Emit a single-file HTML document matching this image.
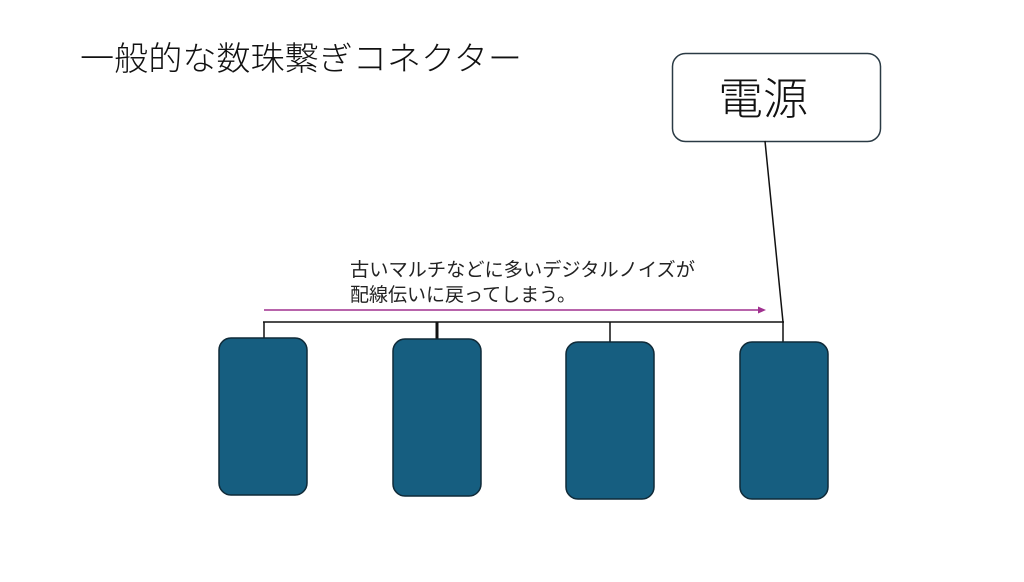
<!DOCTYPE html>
<html><head><meta charset="utf-8"><style>
html,body{margin:0;padding:0;background:#fff;}
svg text{font-family:"Liberation Sans","Noto Sans CJK JP",sans-serif;}
</style></head><body>
<svg width="1024" height="577" viewBox="0 0 1024 577" xmlns="http://www.w3.org/2000/svg">
<rect width="1024" height="577" fill="#fff"/>
<text x="80" y="70" font-size="33" font-weight="300" fill="#111" textLength="442" lengthAdjust="spacingAndGlyphs">一般的な数珠繋ぎコネクター</text>
<rect x="672.5" y="53.5" width="208" height="88" rx="13" fill="#fff" stroke="#2a3a44" stroke-width="1.5"/>
<text x="718" y="114" font-size="44" font-weight="300" fill="#111" textLength="90" lengthAdjust="spacingAndGlyphs">電源</text>
<line x1="765" y1="141" x2="783" y2="322" stroke="#111" stroke-width="1.5"/>
<text x="350" y="276" font-size="19" fill="#222" textLength="345" lengthAdjust="spacingAndGlyphs">古いマルチなどに多いデジタルノイズが</text>
<text x="350" y="301" font-size="19" fill="#222" textLength="226" lengthAdjust="spacingAndGlyphs">配線伝いに戻ってしまう。</text>
<line x1="264" y1="310" x2="760" y2="310" stroke="#a0308f" stroke-width="1.5"/>
<polygon points="766,310 758,306.5 758,313.5" fill="#a0308f"/>
<line x1="263" y1="322" x2="784" y2="322" stroke="#111" stroke-width="1.5"/>
<line x1="264" y1="322" x2="264" y2="339" stroke="#111" stroke-width="1.5"/>
<line x1="437" y1="322" x2="437" y2="340" stroke="#111" stroke-width="3"/>
<line x1="610" y1="322" x2="610" y2="343" stroke="#111" stroke-width="1.5"/>
<line x1="783" y1="322" x2="783" y2="343" stroke="#111" stroke-width="1.5"/>
<g fill="#165e80" stroke="#0f2a38" stroke-width="1.5">
<rect x="219" y="338" width="88" height="157" rx="12"/>
<rect x="393" y="339" width="88" height="157" rx="12"/>
<rect x="566" y="342" width="88" height="157" rx="12"/>
<rect x="740" y="342" width="88" height="157" rx="12"/>
</g>
</svg>
</body></html>
